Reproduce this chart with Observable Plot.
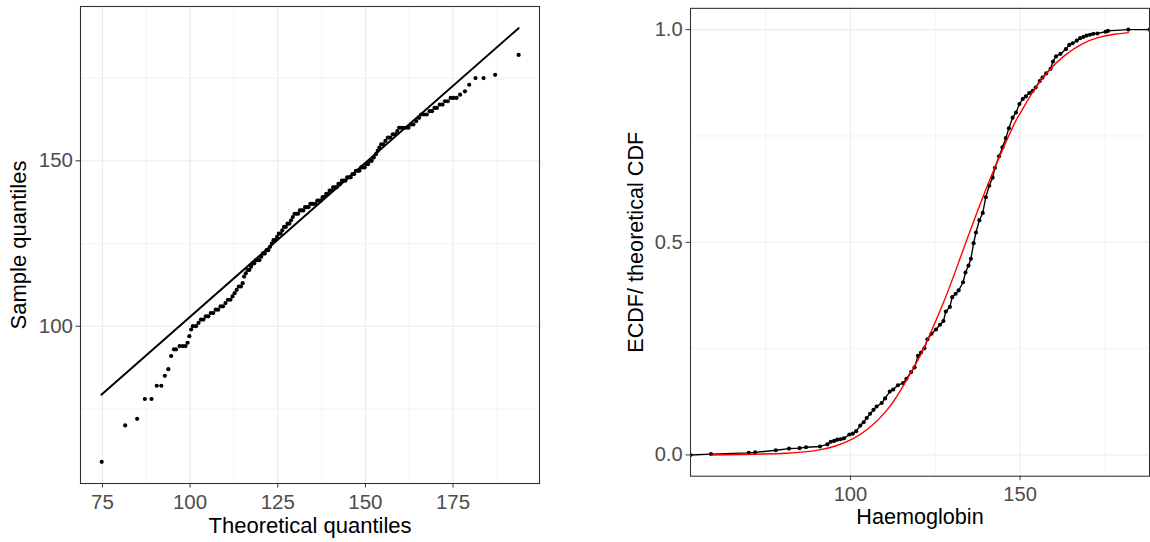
<!DOCTYPE html>
<html><head><meta charset="utf-8">
<script src="https://cdn.jsdelivr.net/npm/d3@7"></script>
<script src="https://cdn.jsdelivr.net/npm/@observablehq/plot@0.6"></script>
<style>
html,body{margin:0;padding:0;background:#fff;overflow:hidden;width:1150px;height:542px}
#wrap{position:relative;width:1150px;height:542px;overflow:hidden}
#left{position:absolute;left:0;top:0}
#right{position:absolute;left:575px;top:0}
</style></head><body><div id="wrap"><div id="left"></div><div id="right"></div></div>
<script>
// ---------- Left panel: normal QQ plot ----------
const qqTheoretical = [74.8,81.5,84.9,87.1,89.0,90.5,91.8,92.8,93.8,94.6,95.4,96.0,97.0,97.9,98.7,99.3,99.8,100.3,100.8,101.7,
  102.4,103.1,103.8,104.5,105.2,105.9,106.6,107.3,108.0,108.7,109.4,110.1,110.8,111.5,112.1,112.7,113.3,113.9,114.5,115.0,115.4,
  115.9,116.4,116.9,117.4,117.8,118.3,118.8,119.3,119.8,120.3,120.8,121.3,121.8,122.3,122.8,123.3,123.8,124.3,124.8,125.3,125.8,
  126.3,126.8,127.3,127.8,128.3,128.8,129.3,129.8,130.3,130.8,131.3,131.8,132.3,132.8,133.3,133.8,134.3,134.8,135.3,135.8,136.3,
  136.8,137.3,137.8,138.3,138.8,139.3,139.8,140.3,140.8,141.3,141.8,142.3,142.8,143.3,143.8,144.3,144.8,145.3,145.8,146.3,146.8,
  147.3,147.8,148.3,148.8,149.3,149.8,150.3,150.8,151.3,151.8,152.4,153.0,153.5,154.0,154.5,155.1,155.7,156.4,157.1,157.8,158.5,
  159.1,159.6,160.2,160.9,161.6,162.3,163.0,163.7,164.5,165.3,165.9,166.7,167.5,168.3,169.0,169.7,170.4,171.2,172.0,172.7,173.5,
  174.3,175.1,176.0,177.0,178.4,179.6,181.4,183.7,187.0,193.7];
const qqSample = [59,70,72,78,78,82,82,85,87,91,93,93,94,94,94,95,97,99,100,100,
  101,102,102,103,103,104,104,105,105,106,106,107,108,108,109,110,111,112,112,113,115,
  116,117,117,118,119,119,120,120,120,121,122,122,123,123,124,125,126,126,127,128,128,
  129,130,130,131,131,132,133,134,134,134,135,135,135,136,136,136,137,137,137,137,138,
  138,138,139,139,140,140,141,141,142,142,142,143,143,144,144,144,145,145,145,146,146,
  147,147,147,148,148,148,149,149,150,150,151,152,153,154,155,155,156,157,157,158,158,
  159,160,160,160,160,160,161,161,162,163,164,164,164,165,165,166,166,167,167,168,168,
  169,169,169,170,171,173,175,175,176,182];
const qqLineX = [74.7, 193.7];
const qqLineY = [79.3, 190.1];
const qqXTicks = [75, 100, 125, 150, 175];
const qqXMinor = [87.5, 112.5, 137.5, 162.5, 187.5];
const qqYTicks = [100, 150];
const qqYMinor = [75, 125, 175];
const qqXTitle = "Theoretical quantiles";
const qqYTitle = "Sample quantiles";

// ---------- Right panel: ECDF vs theoretical CDF ----------
const ecdfX = [58.9,70.0,71.9,78.0,81.9,85.0,86.9,91.0,93.2,94.2,95.2,96.1,97.1,98.1,99.7,100.7,101.7,102.9,103.9,104.8,105.8,
  106.8,107.7,109.2,110.2,111.6,112.6,114.0,115.5,116.5,117.9,118.9,119.9,120.8,121.8,122.7,123.9,125.2,126.4,127.4,128.1,129.3,
  130.0,131.0,131.9,133.2,133.9,134.8,135.5,136.3,137.0,138.0,139.0,139.9,140.9,141.9,142.6,143.8,144.8,145.8,146.7,147.8,148.8,
  149.8,150.8,151.7,152.7,153.7,154.6,155.8,156.6,157.7,159.0,159.7,160.6,161.9,163.5,164.5,165.5,166.7,167.7,168.7,169.6,170.6,
  171.6,172.8,175.2,175.9,181.9];
const ecdfY = [0.002,0.005,0.006,0.011,0.015,0.016,0.018,0.020,0.025,0.031,0.033,0.036,0.037,0.039,0.048,0.050,0.056,0.069,0.077,
  0.087,0.097,0.106,0.114,0.122,0.133,0.149,0.154,0.164,0.169,0.179,0.195,0.206,0.233,0.241,0.251,0.272,0.285,0.295,0.306,0.315,
  0.337,0.348,0.371,0.379,0.387,0.406,0.429,0.445,0.461,0.498,0.523,0.552,0.569,0.606,0.633,0.652,0.675,0.702,0.723,0.745,0.768,
  0.793,0.805,0.825,0.837,0.843,0.851,0.856,0.864,0.879,0.887,0.897,0.908,0.925,0.937,0.943,0.954,0.964,0.968,0.974,0.980,0.983,
  0.986,0.988,0.990,0.991,0.995,0.997,1.0];
const cdfX = [59.0,81.1,90.8,95.6,100.5,105.3,110.2,115.0,119.8,121.8,127.6,132.4,137.3,142.1,147.9,149.8,153.7,158.5,163.3,168.2,173.0,177.8,181.9];
const cdfY = [0.0,0.004,0.012,0.021,0.037,0.062,0.100,0.155,0.222,0.254,0.362,0.464,0.570,0.667,0.772,0.800,0.853,0.904,0.940,0.966,0.981,0.989,0.993];
const ecdfXTicks = [100, 150];
const ecdfXMinor = [75, 125, 175];
const ecdfYTicks = [0, 0.5, 1];
const ecdfYTickLabels = ["0.0", "0.5", "1.0"];
const ecdfYMinor = [0.25, 0.75];
const ecdfXTitle = "Haemoglobin";
const ecdfYTitle = "ECDF/ theoretical CDF";

// ---------- scales / styling ----------
const qqXDomain = [68.75, 199.65];
const qqYDomain = [52.45, 196.65];
const ecdfXDomain = [52.85, 188.15];
const ecdfYDomain = [-0.05, 1.05];
const FONT = "'Liberation Sans', Arial, Helvetica, sans-serif";
const GRID = "#ebebeb";

const qqPoints = qqTheoretical.map((x, i) => ({x, y: qqSample[i]}));
const qqLine = qqLineX.map((x, i) => ({x, y: qqLineY[i]}));
const ecdfPoints = [{x: ecdfXDomain[0], y: 0}, ...ecdfX.map((x, i) => ({x, y: ecdfY[i]})), {x: ecdfXDomain[1], y: 1}];
const cdfPoints = cdfX.map((x, i) => ({x, y: cdfY[i]}));

function grid(xMajor, xMinor, yMajor, yMinor) {
  return [
    Plot.ruleX(xMinor, {stroke: GRID, strokeWidth: 0.6}),
    Plot.ruleY(yMinor, {stroke: GRID, strokeWidth: 0.6}),
    Plot.ruleX(xMajor, {stroke: GRID, strokeWidth: 1.1}),
    Plot.ruleY(yMajor, {stroke: GRID, strokeWidth: 1.1})
  ];
}

const left = Plot.plot({
  width: 575, height: 542,
  marginLeft: 80, marginRight: 36, marginTop: 6, marginBottom: 59,
  x: {domain: qqXDomain},
  y: {domain: qqYDomain},
  style: {fontFamily: FONT, background: "white"},
  marks: [
    ...grid(qqXTicks, qqXMinor, qqYTicks, qqYMinor),
    Plot.line(qqLine, {x: "x", y: "y", stroke: "black", strokeWidth: 2}),
    Plot.dot(qqPoints, {x: "x", y: "y", r: 2.1, fill: "black", stroke: null}),
    Plot.frame({stroke: "#333333", strokeWidth: 1.1}),
    Plot.axisX(qqXTicks, {tickSize: 4.5, tickPadding: 6.5, fontSize: 20.5, stroke: "#333333", fill: "#4d4d4d", label: null}),
    Plot.axisY(qqYTicks, {tickSize: 4.5, tickPadding: 3, fontSize: 20.5, stroke: "#333333", fill: "#4d4d4d", label: null}),
    Plot.text([qqXTitle], {frameAnchor: "bottom", dy: 42, fontSize: 22, fill: "black", textAnchor: "middle", lineAnchor: "middle"}),
    Plot.text([qqYTitle], {frameAnchor: "left", dx: -62, rotate: -90, fontSize: 22, fill: "black", textAnchor: "middle", lineAnchor: "middle"})
  ]
});
document.getElementById("left").appendChild(left);

const right = Plot.plot({
  width: 585, height: 542,
  marginLeft: 117, marginRight: 1, marginTop: 8, marginBottom: 58,
  x: {domain: ecdfXDomain},
  y: {domain: ecdfYDomain},
  style: {fontFamily: FONT, background: "white"},
  marks: [
    ...grid(ecdfXTicks, ecdfXMinor, ecdfYTicks, ecdfYMinor),
    Plot.line(ecdfPoints, {x: "x", y: "y", stroke: "black", strokeWidth: 1.4, clip: true}),
    Plot.dot(ecdfPoints, {x: "x", y: "y", r: 2.1, fill: "black", stroke: null, clip: true}),
    Plot.line(cdfPoints, {x: "x", y: "y", stroke: "red", strokeWidth: 1.4, curve: "natural"}),
    Plot.frame({stroke: "#333333", strokeWidth: 1.1}),
    Plot.axisX(ecdfXTicks, {tickSize: 4.5, tickPadding: 6.5, fontSize: 20.5, stroke: "#333333", fill: "#4d4d4d", label: null}),
    Plot.axisY(ecdfYTicks, {tickSize: 4.5, tickPadding: 3.5, fontSize: 20.5, stroke: "#333333", fill: "#4d4d4d", label: null,
      tickFormat: d => ecdfYTickLabels[ecdfYTicks.indexOf(d)]}),
    Plot.text([ecdfXTitle], {frameAnchor: "bottom", dy: 42, fontSize: 22, fill: "black", textAnchor: "middle", lineAnchor: "middle"}),
    Plot.text([ecdfYTitle], {frameAnchor: "left", dx: -55, rotate: -90, fontSize: 22, fill: "black", textAnchor: "middle", lineAnchor: "middle"})
  ]
});
document.getElementById("right").appendChild(right);
</script></body></html>
